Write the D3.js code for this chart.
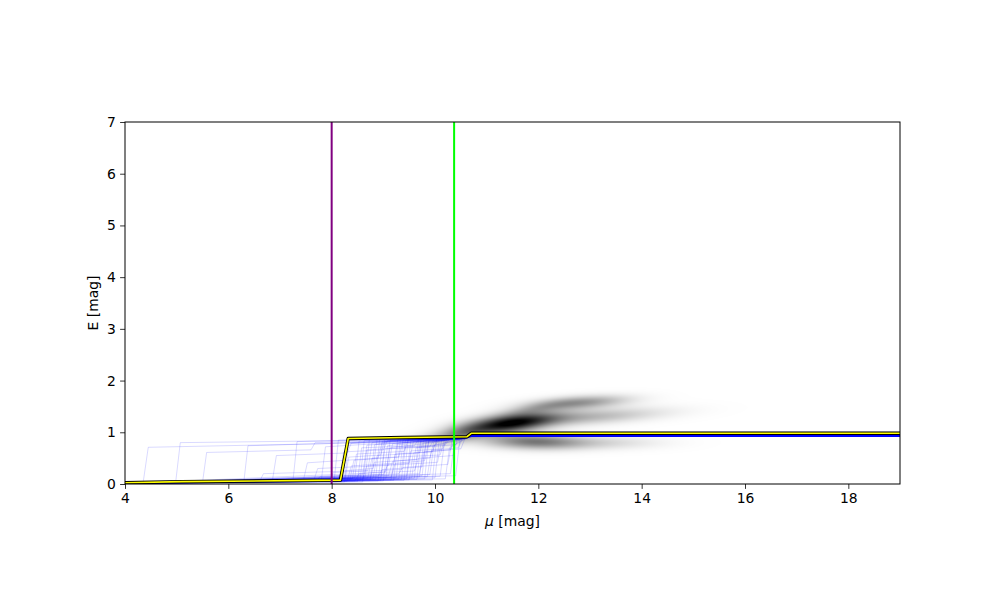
<!DOCTYPE html>
<html><head><meta charset="utf-8">
<script src="https://cdn.jsdelivr.net/npm/d3@7"></script>
<style>body{margin:0;background:#fff}svg{display:block}text{font-family:"DejaVu Sans",sans-serif}</style>
</head><body>
<script>
// ---- data ----
const xTicks = [4, 6, 8, 10, 12, 14, 16, 18];
const yTicks = [0, 1, 2, 3, 4, 5, 6, 7];
const xDomain = [4, 19];
const yDomain = [0, 7];
const xLabel = "[mag]";
const yLabel = "E [mag]";
// density components: [mu0, E0, sigmaMu, sigmaE, slope, weight]
const densityComponents = [
  [11.45, 1.17, 0.6, 0.12, 0.12, 0.95],
  [12.9, 1.29, 1.0, 0.10, 0.06, 0.28],
  [12.75, 1.57, 0.65, 0.085, 0.06, 0.42],
  [11.9, 1.45, 0.4, 0.07, 0.15, 0.15],
  [11.9, 0.82, 0.65, 0.10, -0.02, 0.5],
  [13.2, 0.80, 0.8, 0.09, 0.0, 0.14],
  [10.5, 0.97, 0.35, 0.11, 0.2, 0.3],
  [9.9, 0.88, 0.3, 0.09, 0.1, 0.1]
];
// sampled extinction profiles [mu, E]
const samples = [
[[4,0.01],[4.35,0.02],[4.45,0.71],[7.9,0.78],[9.8,0.86],[10.6,0.9],[10.72,0.93],[19,0.93]],
[[4,0.01],[4.98,0.03],[5.07,0.80],[8.4,0.84],[10.5,0.89],[10.7,0.92],[19,0.92]],
[[4,0.01],[5.5,0.03],[5.58,0.61],[7.6,0.66],[7.68,0.8],[10.5,0.88],[10.7,0.93],[19,0.93]],
[[4,0.01],[6.3,0.04],[6.38,0.74],[9.2,0.82],[10.55,0.9],[10.7,0.95],[19,0.95]],
[[4,0.01],[6.85,0.05],[6.93,0.55],[8.3,0.6],[8.38,0.79],[10.6,0.9],[10.72,0.92],[19,0.92]],
[[4,0.01],[7.25,0.05],[7.33,0.82],[10.55,0.9],[10.7,0.93],[19,0.93]],
[[4,0.01],[7.45,0.06],[7.53,0.41],[8.9,0.5],[8.98,0.83],[10.6,0.9],[10.7,0.94],[19,0.94]],
[[4,0.01],[7.65,0.06],[7.73,0.30],[9.1,0.36],[9.18,0.78],[10.6,0.88],[10.72,0.92],[19,0.92]],
[[4,0.01],[7.8,0.07],[7.88,0.72],[10.55,0.88],[10.7,0.93],[19,0.93]],
[[4,0.01],[6.6,0.04],[6.68,0.2],[8.7,0.26],[8.78,0.8],[10.6,0.9],[10.7,0.94],[19,0.94]],
[[4,0.01],[8.05,0.08],[8.13,0.85],[10.55,0.9],[10.7,0.93],[19,0.93]],
[[4,0.01],[8.15,0.06],[8.23,0.62],[9.0,0.66],[9.08,0.84],[10.6,0.9],[10.7,1.0],[19,1.0]],
[[4,0.01],[8.25,0.1],[8.33,0.78],[10.5,0.88],[10.7,0.92],[19,0.92]],
[[4,0.01],[8.35,0.07],[8.43,0.46],[9.3,0.52],[9.38,0.85],[10.6,0.9],[10.72,0.93],[19,0.93]],
[[4,0.01],[8.45,0.12],[8.53,0.83],[10.55,0.9],[10.7,0.95],[19,0.95]],
[[4,0.01],[8.5,0.05],[8.58,0.7],[9.6,0.74],[9.68,0.86],[10.6,0.9],[10.7,0.93],[19,0.93]],
[[4,0.01],[8.6,0.09],[8.68,0.35],[9.5,0.4],[9.58,0.82],[10.55,0.88],[10.7,0.92],[19,0.92]],
[[4,0.01],[8.65,0.14],[8.73,0.86],[10.6,0.9],[10.7,0.94],[19,0.94]],
[[4,0.01],[8.75,0.08],[8.83,0.76],[10.5,0.87],[10.7,0.93],[19,0.93]],
[[4,0.01],[8.8,0.11],[8.88,0.55],[9.7,0.6],[9.78,0.84],[10.6,0.9],[10.7,0.93],[19,0.93]],
[[4,0.01],[8.9,0.06],[8.98,0.8],[10.55,0.89],[10.7,0.95],[19,0.95]],
[[4,0.01],[8.95,0.13],[9.03,0.68],[10.0,0.74],[10.08,0.86],[10.6,0.9],[10.7,0.93],[19,0.93]],
[[4,0.01],[9.05,0.1],[9.13,0.84],[10.6,0.9],[10.7,0.92],[19,0.92]],
[[4,0.01],[9.1,0.16],[9.18,0.44],[9.9,0.5],[9.98,0.82],[10.6,0.9],[10.72,0.93],[19,0.93]],
[[4,0.01],[9.2,0.07],[9.28,0.79],[10.55,0.88],[10.7,0.94],[19,0.94]],
[[4,0.01],[9.25,0.12],[9.33,0.86],[10.6,0.9],[10.7,1.0],[19,1.0]],
[[4,0.01],[9.35,0.09],[9.43,0.72],[10.2,0.76],[10.28,0.87],[10.6,0.9],[10.7,0.95],[19,0.95]],
[[4,0.01],[9.45,0.15],[9.53,0.83],[10.55,0.89],[10.7,0.93],[19,0.93]],
[[4,0.01],[9.5,0.08],[9.58,0.6],[10.3,0.66],[10.38,0.86],[10.6,0.9],[10.7,0.92],[19,0.92]],
[[4,0.01],[9.6,0.11],[9.68,0.85],[10.6,0.9],[10.7,0.93],[19,0.93]],
[[4,0.01],[9.7,0.14],[9.78,0.8],[10.55,0.88],[10.7,0.94],[19,0.94]],
[[4,0.01],[9.8,0.1],[9.88,0.86],[10.6,0.9],[10.7,0.93],[19,0.93]],
[[4,0.01],[9.9,0.18],[9.98,0.75],[10.55,0.86],[10.7,0.92],[19,0.92]],
[[4,0.01],[10.0,0.12],[10.08,0.84],[10.6,0.9],[10.7,0.93],[19,0.93]],
[[4,0.01],[8.1,0.04],[8.18,0.25],[8.8,0.3],[8.88,0.87],[10.6,0.9],[10.7,0.94],[19,0.94]],
[[4,0.01],[8.4,0.1],[8.48,0.58],[9.4,0.63],[9.48,0.85],[10.55,0.9],[10.7,0.93],[19,0.93]],
[[4,0.01],[8.55,0.07],[8.63,0.84],[10.6,0.9],[10.7,0.93],[19,0.93]],
[[4,0.01],[8.7,0.12],[8.78,0.5],[10.1,0.56],[10.18,0.85],[10.6,0.9],[10.7,0.95],[19,0.95]],
[[4,0.01],[8.85,0.09],[8.93,0.87],[10.6,0.91],[10.7,0.93],[19,0.93]],
[[4,0.01],[9.0,0.06],[9.08,0.74],[10.55,0.88],[10.7,0.92],[19,0.92]],
[[4,0.01],[9.15,0.13],[9.23,0.4],[9.8,0.45],[9.88,0.83],[10.6,0.9],[10.7,0.93],[19,0.93]],
[[4,0.01],[9.3,0.1],[9.38,0.81],[10.55,0.89],[10.7,0.94],[19,0.94]],
[[4,0.01],[9.4,0.07],[9.48,0.87],[10.6,0.9],[10.7,0.95],[19,0.95]],
[[4,0.01],[9.55,0.12],[9.63,0.7],[10.4,0.76],[10.48,0.87],[10.62,0.9],[10.72,0.93],[19,0.93]],
[[4,0.01],[9.65,0.09],[9.73,0.83],[10.6,0.9],[10.7,0.93],[19,0.93]],
[[4,0.01],[9.75,0.16],[9.83,0.86],[10.6,0.9],[10.7,0.92],[19,0.92]],
[[4,0.01],[8.2,0.09],[8.28,0.8],[10.55,0.89],[10.7,0.93],[19,0.93]],
[[4,0.01],[8.3,0.05],[8.38,0.35],[9.2,0.4],[9.28,0.86],[10.6,0.9],[10.7,0.94],[19,0.94]],
[[4,0.01],[8.95,0.07],[9.03,0.82],[10.6,0.9],[10.7,0.93],[19,0.93]],
[[4,0.01],[9.85,0.14],[9.93,0.65],[10.45,0.7],[10.53,0.88],[10.65,0.9],[10.72,0.93],[19,0.93]],
[[4,0.01],[7.95,0.05],[8.03,0.22],[9.35,0.28],[9.43,0.85],[10.6,0.9],[10.7,0.92],[19,0.92]],
[[4,0.01],[7.7,0.05],[7.78,0.15],[8.6,0.18],[8.68,0.75],[10.55,0.88],[10.7,0.93],[19,0.93]],
[[4,0.01],[9.95,0.08],[10.03,0.87],[10.6,0.9],[10.7,0.94],[19,0.94]],
[[4,0.01],[10.1,0.15],[10.18,0.8],[10.6,0.89],[10.7,0.93],[19,0.93]],
[[4,0.01],[8.6,0.04],[8.68,0.66],[9.9,0.72],[9.98,0.86],[10.6,0.9],[10.7,0.93],[19,0.93]],
[[4,0.01],[10.3,0.2],[10.38,0.86],[10.6,0.9],[10.7,0.93],[19,0.93]],
[[4,0.01],[10.2,0.1],[10.28,0.7],[10.6,0.88],[10.7,0.92],[19,0.92]],
[[4,0.01],[9.6,0.25],[9.68,0.5],[10.35,0.55],[10.43,0.87],[10.6,0.9],[10.7,0.93],[19,0.93]],
[[4,0.01],[9.3,0.2],[9.38,0.32],[10.25,0.38],[10.33,0.84],[10.6,0.9],[10.7,0.94],[19,0.94]],
[[4,0.01],[8.9,0.15],[8.98,0.28],[9.75,0.33],[9.83,0.8],[10.6,0.89],[10.7,0.93],[19,0.93]],
[[4,0.01],[8.45,0.06],[8.53,0.2],[9.05,0.24],[9.13,0.7],[10.6,0.88],[10.7,0.93],[19,0.93]],
[[4,0.01],[9.45,0.1],[9.53,0.64],[10.15,0.68],[10.23,0.86],[10.6,0.9],[10.7,0.92],[19,0.92]],
[[4,0.01],[9.15,0.08],[9.23,0.58],[9.95,0.62],[10.03,0.85],[10.6,0.9],[10.7,0.93],[19,0.93]],
[[4,0.01],[8.75,0.12],[8.83,0.42],[9.65,0.47],[9.73,0.87],[10.6,0.9],[10.7,0.94],[19,0.94]],
[[4,0.01],[10.4,0.16],[10.48,0.85],[10.62,0.9],[10.72,0.93],[19,0.93]],
[[4,0.01],[9.0,0.18],[9.08,0.36],[10.05,0.42],[10.13,0.85],[10.6,0.9],[10.7,0.93],[19,0.93]],
[[4,0.01],[8.25,0.04],[8.33,0.52],[8.95,0.56],[9.03,0.86],[10.6,0.9],[10.7,0.93],[19,0.93]],
[[4,0.01],[9.7,0.2],[9.78,0.62],[10.5,0.68],[10.58,0.88],[10.65,0.9],[10.72,0.93],[19,0.93]]
];
const bestMu = [4, 5.1, 8.17, 8.32, 9.4, 10.62, 10.7, 19];
const bestE  = [0.025, 0.045, 0.075, 0.88, 0.9, 0.915, 0.98, 0.98];
const markerMu = [8.0, 10.37];
const markerColors = ["#800080", "#00ff00"];

// ---- layout ----
const W = 1000, H = 600;
const m = {left: 125, right: 900, top: 122, bottom: 484};
const pw = m.right - m.left, ph = m.bottom - m.top;
const x = d3.scaleLinear().domain(xDomain).range([m.left, m.right]);
const y = d3.scaleLinear().domain(yDomain).range([m.bottom, m.top]);

const svg = d3.select("body").append("svg").attr("width", W).attr("height", H);
svg.append("defs").append("clipPath").attr("id", "clip")
  .append("rect").attr("x", m.left).attr("y", m.top).attr("width", pw).attr("height", ph);

// density image
const cv = document.createElement("canvas");
cv.width = pw; cv.height = ph;
const ctx = cv.getContext("2d");
const img = ctx.createImageData(pw, ph);
for (let j = 0; j < ph; j++) {
  const E = y.invert(m.top + j + 0.5);
  for (let i = 0; i < pw; i++) {
    const mu = x.invert(m.left + i + 0.5);
    let d = 0;
    for (const [m0, e0, sm, se, sl, w] of densityComponents) {
      const dx = (mu - m0) / sm;
      const dy = (E - (e0 + sl * (mu - m0))) / se;
      d += w * Math.exp(-0.5 * (dx * dx + dy * dy));
    }
    const v = Math.round(255 * (1 - Math.min(1, d)));
    const k = 4 * (j * pw + i);
    img.data[k] = v; img.data[k+1] = v; img.data[k+2] = v; img.data[k+3] = 255;
  }
}
ctx.putImageData(img, 0, 0);
svg.append("image").attr("x", m.left).attr("y", m.top).attr("width", pw).attr("height", ph)
  .attr("href", cv.toDataURL());

const plot = svg.append("g").attr("clip-path", "url(#clip)");
const line = d3.line().x(d => x(d[0])).y(d => y(d[1]));

plot.selectAll("path.sample").data(samples).join("path")
  .attr("class", "sample").attr("d", line)
  .attr("fill", "none").attr("stroke", "blue").attr("stroke-opacity", 0.17).attr("stroke-width", 0.9);

const best = bestMu.map((v, i) => [v, bestE[i]]);
plot.append("path").attr("d", line(best)).attr("fill", "none").attr("stroke", "black")
  .attr("stroke-width", 3.4).attr("stroke-linejoin", "round");
plot.append("path").attr("d", line(best)).attr("fill", "none").attr("stroke", "yellow")
  .attr("stroke-width", 1.6).attr("stroke-linejoin", "round");

plot.selectAll("line.marker").data(markerMu).join("line")
  .attr("class", "marker")
  .attr("x1", d => x(d)).attr("x2", d => x(d)).attr("y1", m.top).attr("y2", m.bottom)
  .attr("stroke", (d, i) => markerColors[i]).attr("stroke-width", 2);

// axes
const xa = svg.append("g").attr("transform", `translate(0,${m.bottom})`)
  .call(d3.axisBottom(x).tickValues(xTicks).tickSize(4.9).tickPadding(4.2).tickFormat(d3.format("d")));
const ya = svg.append("g").attr("transform", `translate(${m.left},0)`)
  .call(d3.axisLeft(y).tickValues(yTicks).tickSize(4.9).tickPadding(4.2).tickFormat(d3.format("d")));
[xa, ya].forEach(g => {
  g.select(".domain").remove();
  g.selectAll(".tick line").attr("stroke", "black").attr("stroke-width", 0.8);
  g.selectAll(".tick text").attr("font-size", "13.9px").attr("fill", "black")
   .attr("font-family", "DejaVu Sans, sans-serif");
});
svg.append("rect").attr("x", m.left).attr("y", m.top).attr("width", pw).attr("height", ph)
  .attr("fill", "none").attr("stroke", "black").attr("stroke-width", 1);

const xl = svg.append("text").attr("x", (m.left + m.right) / 2).attr("y", 526)
  .attr("text-anchor", "middle").attr("font-size", "13.9px");
xl.append("tspan").attr("font-style", "italic").text("μ");
xl.append("tspan").text(" " + xLabel);
svg.append("text").attr("transform", `translate(98,${(m.top + m.bottom) / 2}) rotate(-90)`)
  .attr("text-anchor", "middle").attr("font-size", "13.9px").text(yLabel);
</script>
</body></html>
